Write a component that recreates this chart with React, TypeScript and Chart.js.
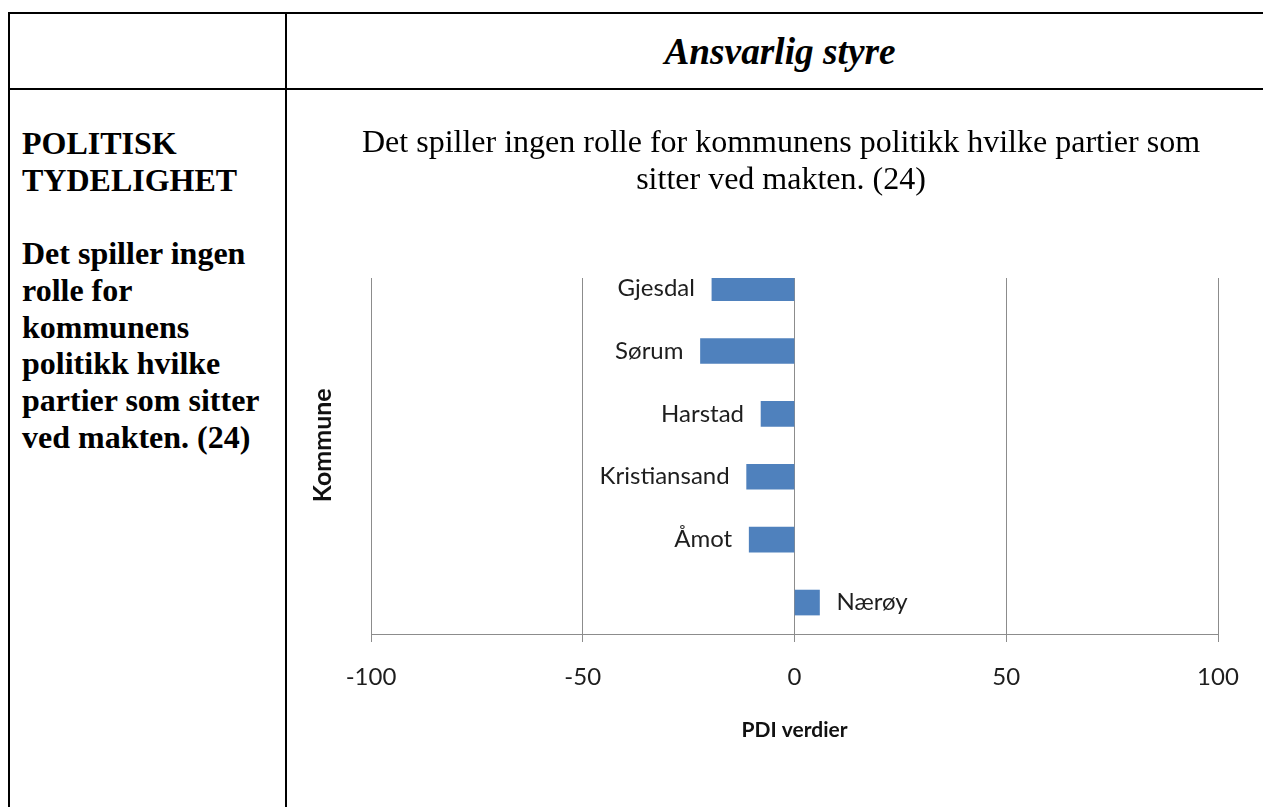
import React, { useEffect, useRef } from "react";
import { Chart, registerables } from "chart.js";

Chart.register(...registerables);

const categories: string[] = ["Gjesdal", "Sørum", "Harstad", "Kristiansand", "Åmot", "Nærøy"];
const pdiValues: number[] = [-19.5, -22.2, -7.9, -11.3, -10.7, 5.9];
const xTicks: number[] = [-100, -50, 0, 50, 100];
const chartTitle: string[] = [
  "Det spiller ingen rolle for kommunens politikk hvilke partier som",
  "sitter ved makten. (24)",
];
const xAxisTitle = "PDI verdier";
const yAxisTitle = "Kommune";
const headerText = "Ansvarlig styre";
const leftCellLines: string[] = [
  "POLITISK",
  "TYDELIGHET",
  "",
  "Det spiller ingen",
  "rolle for",
  "kommunens",
  "politikk hvilke",
  "partier som sitter",
  "ved makten. (24)",
];

const CANVAS_W = 982;
const CANVAS_H = 700;

const labelPlugin = {
  id: "barLabels",
  afterDatasetsDraw(chart: any) {
    const ctx = chart.ctx;
    const meta = chart.getDatasetMeta(0);
    ctx.save();
    ctx.font = "24px Lato";
    ctx.fillStyle = "#1e1e1e";
    ctx.textBaseline = "middle";
    meta.data.forEach((bar: any, i: number) => {
      const p = bar.getProps(["x", "y"], true);
      if (pdiValues[i] < 0) {
        ctx.textAlign = "right";
        ctx.fillText(categories[i], p.x - 17, p.y);
      } else {
        ctx.textAlign = "left";
        ctx.fillText(categories[i], p.x + 17, p.y);
      }
    });
    const ys = chart.scales.y;
    const cy = ys.getPixelForValue((categories.length - 1) / 2);
    ctx.translate(33, cy);
    ctx.rotate(-Math.PI / 2);
    ctx.font = "bold 25px Lato";
    ctx.textAlign = "center";
    ctx.fillStyle = "#111";
    ctx.fillText(yAxisTitle, 0, 0);
    ctx.restore();
  },
};

function BarChart() {
  const ref = useRef<HTMLCanvasElement | null>(null);
  useEffect(() => {
    if (!ref.current) return;
    const chart = new Chart(ref.current, {
      type: "bar",
      data: {
        datasets: [
          {
            data: pdiValues.map((v, i) => ({ x: v, y: i })),
            backgroundColor: "#4F81BD",
            borderWidth: 0,
            barThickness: 25,
            clip: 0,
          } as any,
        ],
      },
      options: {
        indexAxis: "y",
        responsive: false,
        animation: false,
        layout: { padding: { left: 54, right: 54, top: 0, bottom: 46 } },
        plugins: {
          legend: { display: false },
          tooltip: { enabled: false },
          title: {
            display: true,
            text: chartTitle,
            color: "#000",
            font: { family: "'Liberation Serif', 'Times New Roman', serif", size: 32, weight: "normal", lineHeight: 1.147 },
            padding: { top: 25.15, bottom: 79.45 },
          },
        },
        scales: {
          x: {
            type: "linear",
            min: xTicks[0],
            max: xTicks[xTicks.length - 1],
            afterBuildTicks: (scale: any) => {
              scale.ticks = xTicks.map((v) => ({ value: v }));
            },
            afterFit: (scale: any) => {
              scale.height = 120;
            },
            ticks: {
              font: { family: "Lato", size: 24 },
              color: "#1e1e1e",
              padding: 21,
            },
            grid: { color: "#8c8c8c", lineWidth: 1, tickLength: 8, drawTicks: true },
            border: { display: true, color: "#8c8c8c", width: 1 },
            title: {
              display: true,
              text: xAxisTitle,
              color: "#111",
              font: { family: "Lato", size: 21, weight: "bold" },
              padding: { top: 0, bottom: 11 },
            },
          },
          y: {
            type: "linear",
            reverse: true,
            offset: false,
            min: -0.16,
            max: categories.length - 0.5,
            afterFit: (scale: any) => {
              scale.width = 27;
            },
            ticks: { display: false },
            grid: { display: false, offset: false },
            border: { display: false },
          },
        },
      } as any,
      plugins: [labelPlugin],
    });
    return () => chart.destroy();
  }, []);
  return <canvas ref={ref} width={CANVAS_W} height={CANVAS_H} style={{ width: CANVAS_W, height: CANVAS_H, display: "block" }} />;
}

export default function App() {
  const line = (style: React.CSSProperties) => <div style={{ position: "absolute", background: "#000", ...style }} />;
  return (
    <div style={{ position: "absolute", left: 0, top: 0, width: 1263, height: 807, overflow: "hidden", background: "#fff" }}>
      {line({ left: 8, top: 12, width: 1400, height: 2 })}
      {line({ left: 8, top: 12, width: 2, height: 900 })}
      {line({ left: 285, top: 12, width: 2, height: 900 })}
      {line({ left: 8, top: 88, width: 1400, height: 2 })}
      <div
        style={{
          position: "absolute",
          left: 287,
          top: 14,
          width: 986,
          height: 74,
          display: "flex",
          alignItems: "center",
          justifyContent: "center",
          fontFamily: "'Liberation Serif', 'Times New Roman', serif",
          fontWeight: "bold",
          fontStyle: "italic",
          fontSize: 37.3,
          color: "#000",
        }}
      >
        {headerText}
      </div>
      <div
        style={{
          position: "absolute",
          left: 22,
          top: 125.1,
          fontFamily: "'Liberation Serif', 'Times New Roman', serif",
          fontWeight: "bold",
          fontSize: 32,
          lineHeight: "36.7px",
          whiteSpace: "nowrap",
          color: "#000",
        }}
      >
        {leftCellLines.map((t, i) => (
          <div key={i} style={{ height: 36.7 }}>{t}</div>
        ))}
      </div>
      <div style={{ position: "absolute", left: 290, top: 100 }}>
        <BarChart />
      </div>
    </div>
  );
}
